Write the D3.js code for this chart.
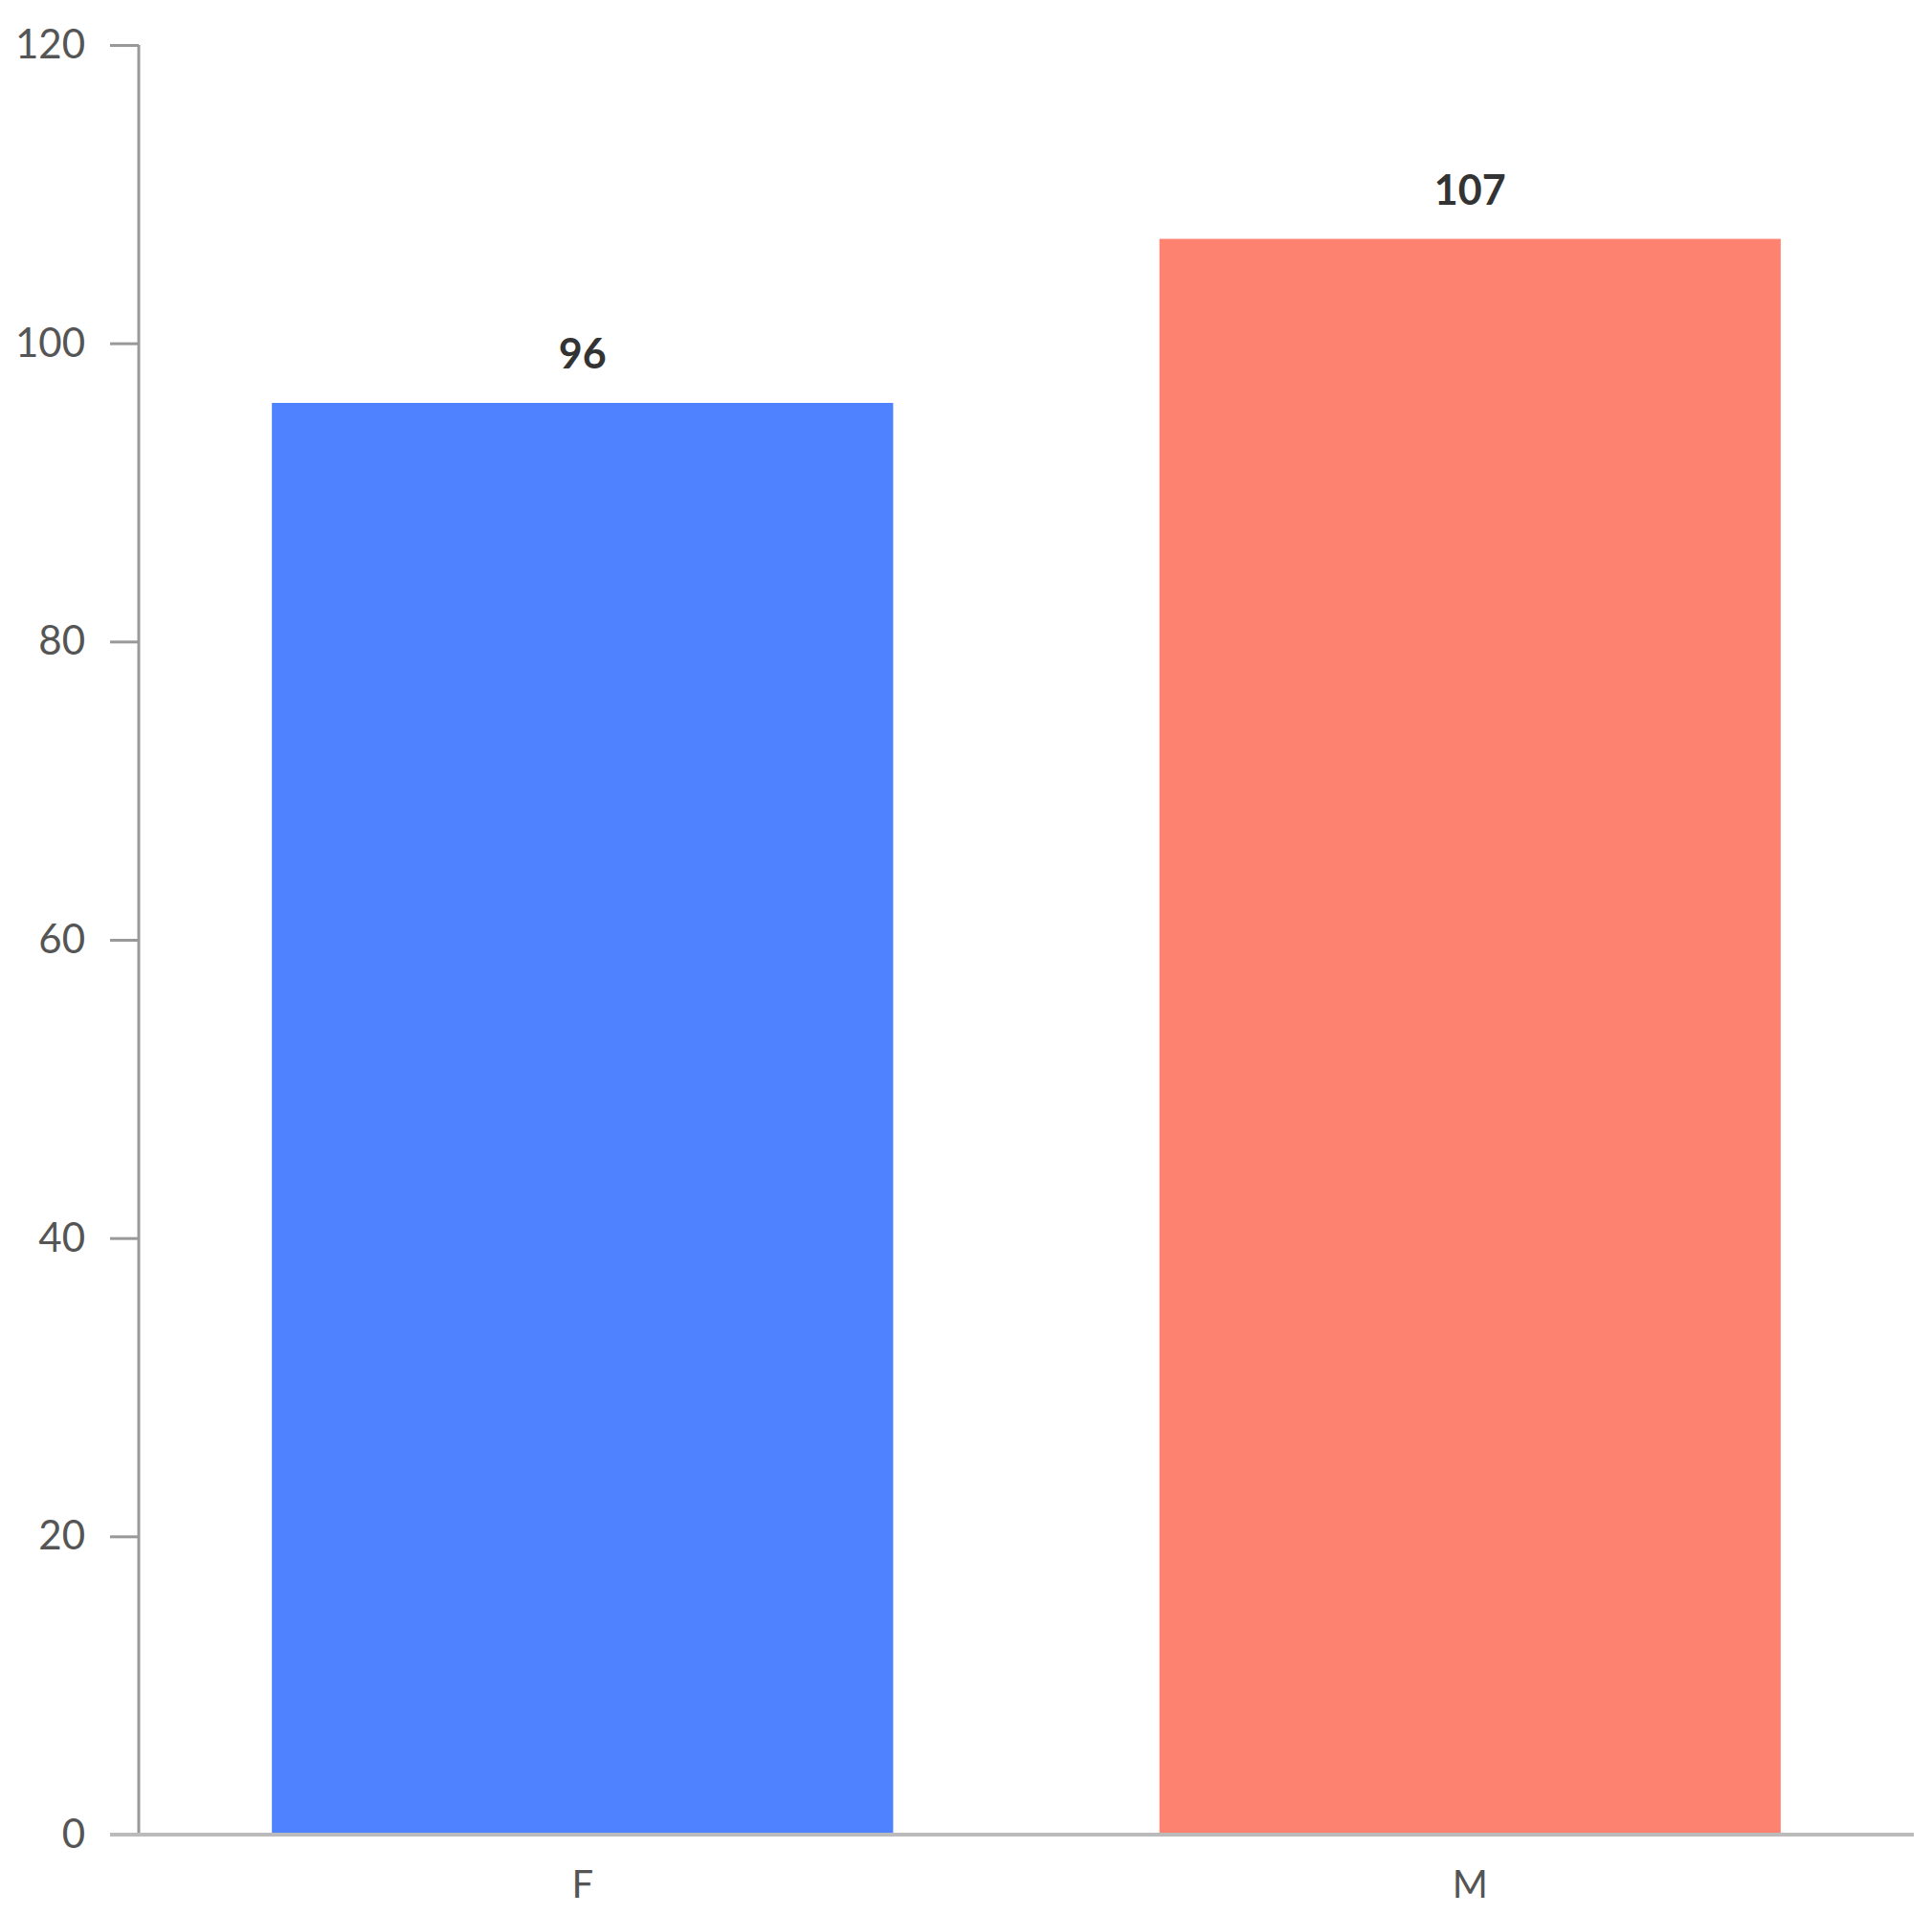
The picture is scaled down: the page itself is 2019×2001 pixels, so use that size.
<!DOCTYPE html>
<html><head><meta charset="utf-8">
<script src="https://cdn.jsdelivr.net/npm/d3@7"></script>
<style>body{margin:0;background:#fff}svg{display:block}</style>
</head><body>
<script>
const categories = ["F", "M"];
const values = [96, 107];
const colors = ["#4e82fe", "#fe8270"];
const yTicks = [0, 20, 40, 60, 80, 100, 120];

const W = 2019, H = 2001;
const svg = d3.select("body").append("svg").attr("width", W).attr("height", H);
const font = "Lato, 'Open Sans', sans-serif";

const x = d3.scaleBand().domain(categories).range([145, 2000]).paddingInner(0.3).paddingOuter(0.15);
const y = d3.scaleLinear().domain([0, 120]).range([1917, 47]);

// bars
svg.selectAll("rect.bar").data(categories).enter().append("rect")
  .attr("class", "bar")
  .attr("x", d => x(d))
  .attr("width", x.bandwidth())
  .attr("y", (d, i) => y(values[i]))
  .attr("height", (d, i) => y(0) - y(values[i]))
  .attr("fill", (d, i) => colors[i]);

// value labels
svg.selectAll("text.val").data(categories).enter().append("text")
  .attr("x", d => x(d) + x.bandwidth() / 2)
  .attr("y", (d, i) => y(values[i]) - 36)
  .attr("text-anchor", "middle")
  .attr("font-family", font).attr("font-size", 43).attr("font-weight", "bold")
  .attr("fill", "#333")
  .text((d, i) => values[i]);

// y axis
const yAxis = svg.append("g").attr("transform", "translate(145,0)")
  .call(d3.axisLeft(y).tickValues(yTicks).tickSize(30).tickPadding(26));
yAxis.select(".domain").attr("stroke", "#999").attr("stroke-width", 3)
  .attr("d", `M0,${y(120)}V${y(0)}`);
yAxis.selectAll(".tick line").attr("stroke", "#999").attr("stroke-width", 3);
yAxis.selectAll(".tick text").attr("font-family", font).attr("font-size", 42).attr("fill", "#555");

// x axis
const xAxis = svg.append("g").attr("transform", `translate(0,${y(0)})`)
  .call(d3.axisBottom(x).tickSize(0).tickPadding(38));
xAxis.select(".domain").attr("stroke", "#bbb").attr("stroke-width", 4)
  .attr("d", `M115,0H2000`);
xAxis.selectAll(".tick text").attr("font-family", font).attr("font-size", 40).attr("fill", "#555");
</script>
</body></html>
